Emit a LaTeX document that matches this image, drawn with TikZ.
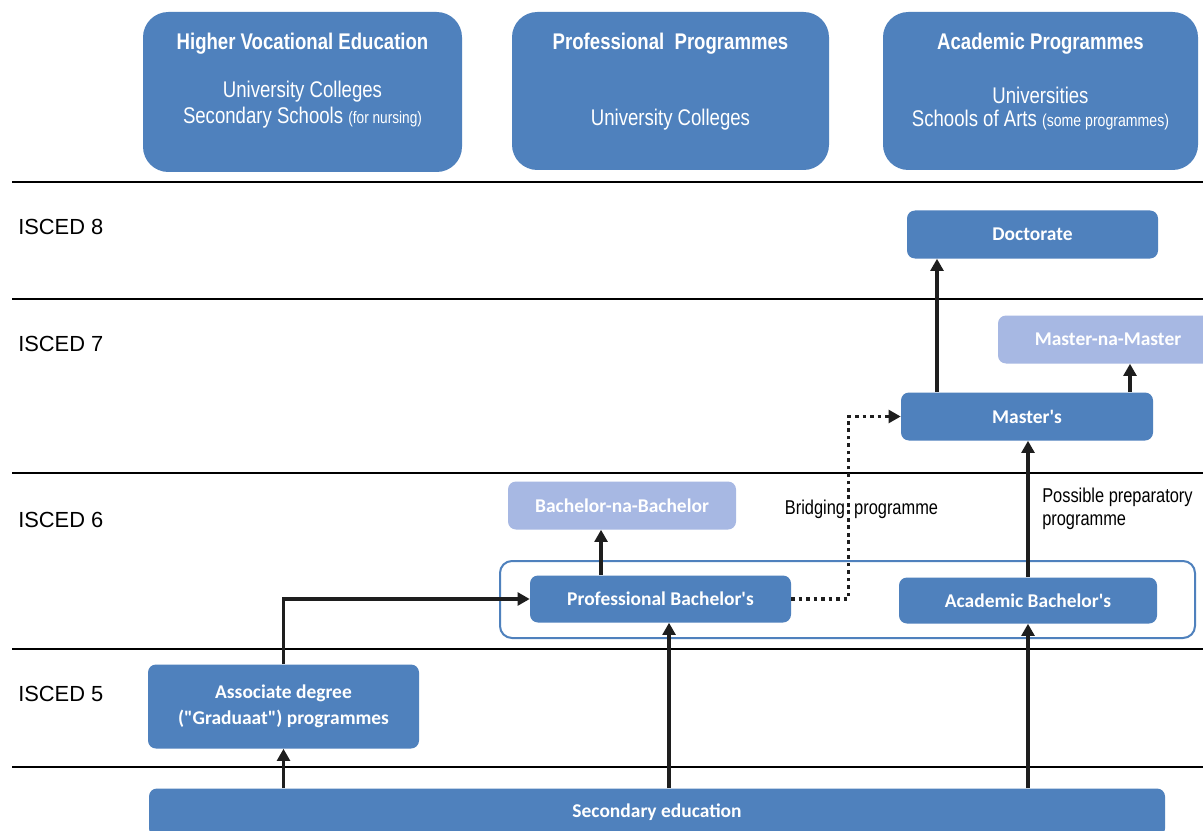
\documentclass[tikz,border=0pt]{standalone}
\usepackage{fontspec}
\setmainfont{Liberation Sans}
\newfontfamily\calib{Carlito}
\newfontfamily\narrow[FakeStretch=0.82]{Liberation Sans}
\usetikzlibrary{arrows.meta}
\definecolor{boxblue}{HTML}{4F81BD}
\definecolor{lightblue}{HTML}{A7B8E3}
\definecolor{arrowcol}{HTML}{1E1E1E}
\begin{document}
\begin{tikzpicture}[x=0.75pt,y=-0.75pt,
 hdr/.style={fill=boxblue, rounded corners=19pt, inner sep=0},
 box/.style={fill=boxblue, rounded corners=6pt, text=white, font=\calib\bfseries\fontsize{14.6}{19.5}\selectfont, inner sep=0, align=center},
 lbox/.style={box, fill=lightblue},
 frm/.style={draw=boxblue, line width=1.5pt, rounded corners=9pt, inner sep=0},
 htitle/.style={text=white, font=\narrow\bfseries\fontsize{17}{20}\selectfont, inner sep=0},
 hsub/.style={text=white, font=\narrow\fontsize{17}{20}\selectfont, inner sep=0},
 level/.style={line width=1.7pt, black},
 isced/.style={font=\fontsize{16.4}{19}\selectfont, anchor=west, inner sep=0},
 arr/.style={line width=2.6pt, arrowcol, -{Triangle[length=9pt,width=9.5pt]}},
 dotarr/.style={arr, dash pattern=on 2.8pt off 2.8pt},
 note/.style={font=\narrow\fontsize{15}{17.5}\selectfont, inner sep=0}]
\clip (0,0) rectangle (1203,831);
\fill[white] (0,0) rectangle (1203,831);

% header boxes
\node[hdr, minimum width=239.25pt, minimum height=120pt] (h1) at (302.5,92) {};
\node[hdr, minimum width=237.75pt, minimum height=118.5pt] (h2) at (670.5,91) {};
\node[hdr, minimum width=236.25pt, minimum height=118.5pt] (h3) at (1040.5,91) {};
\node[htitle] (h1t) at (302.5,44) {Higher Vocational Education};
\node[hsub] (h1a) at (302.5,92) {University Colleges};
\node[hsub] (h1b) at (302.5,118) {Secondary Schools {\fontsize{12.5}{14}\selectfont (for nursing)}};
\node[htitle] (h2t) at (670.5,44) {Professional\ \ Programmes};
\node[hsub] (h2a) at (670.5,120) {University Colleges};
\node[htitle] (h3t) at (1040.5,44) {Academic Programmes};
\node[hsub] (h3a) at (1040.5,95) {Universities};
\node[hsub] (h3b) at (1040.5,120) {Schools of Arts {\fontsize{12.9}{14}\selectfont (some programmes)}};

% level lines
\foreach \yy in {182,299,473,649,767} \draw[level] (12,\yy) -- (1203,\yy);

% ISCED labels
\node[isced] (i8) at (18,227) {ISCED 8};
\node[isced] (i7) at (18,344) {ISCED 7};
\node[isced] (i6) at (18,520) {ISCED 6};
\node[isced] (i5) at (18,694) {ISCED 5};

% bachelor frame
\node[frm, minimum width=521.25pt, minimum height=57.75pt] (bfr) at (847.5,599.5) {};

% programme boxes
\node[box, minimum width=188.25pt, minimum height=36pt] (doc) at (1032.5,234.5) {Doctorate};
\node[lbox, minimum width=165pt, minimum height=36pt] (mnm) at (1108,339.5) {Master-na-Master};
\node[box, minimum width=189pt, minimum height=36pt] (ma) at (1027,416.5) {Master's};
\node[lbox, minimum width=171pt, minimum height=36pt] (bnb) at (622,505.5) {Bachelor-na-Bachelor};
\node[box, minimum width=195.75pt, minimum height=35.25pt] (pb) at (660.5,599) {Professional Bachelor's};
\node[box, minimum width=193.5pt, minimum height=34.5pt] (ab) at (1028,600.5) {Academic Bachelor's};
\node[box, minimum width=203.25pt, minimum height=63pt] (asc) at (283.5,706.5) {Associate degree\\("Graduaat") programmes};
\node[box, minimum width=762pt, minimum height=36pt] (sec) at (657,812.5) {Secondary education};

% notes
\node[note] (brg) at (861.5,509) {Bridging\ \ programme};
\node[note, anchor=west, align=left] (prep) at (1042,509) {Possible preparatory\\programme};

% connectors
\draw[arr] (asc.south |- sec.north) -- (asc.south);
\draw[arr] (asc.north) |- (pb.west);
\draw[arr] ([xshift=6.4pt]pb.south |- sec.north) -- ([xshift=6.4pt]pb.south);
\draw[arr] (ab.south |- sec.north) -- (ab.south);
\draw[arr] ([xshift=-44.6pt]pb.north) -- ([xshift=-44.6pt]pb.north |- bnb.south);
\draw[arr] (ab.north) -- (ab.north |- ma.south);
\draw[arr] ([xshift=-67.5pt]ma.north) -- ([xshift=-67.5pt]ma.north |- doc.south);
\draw[arr] ([xshift=77.25pt]ma.north) -- ([xshift=77.25pt]ma.north |- mnm.south);
\coordinate (bend) at ([xshift=42.75pt]pb.east);
\draw[dotarr] (pb.east) -- (bend) |- (ma.west);
\end{tikzpicture}
\end{document}
